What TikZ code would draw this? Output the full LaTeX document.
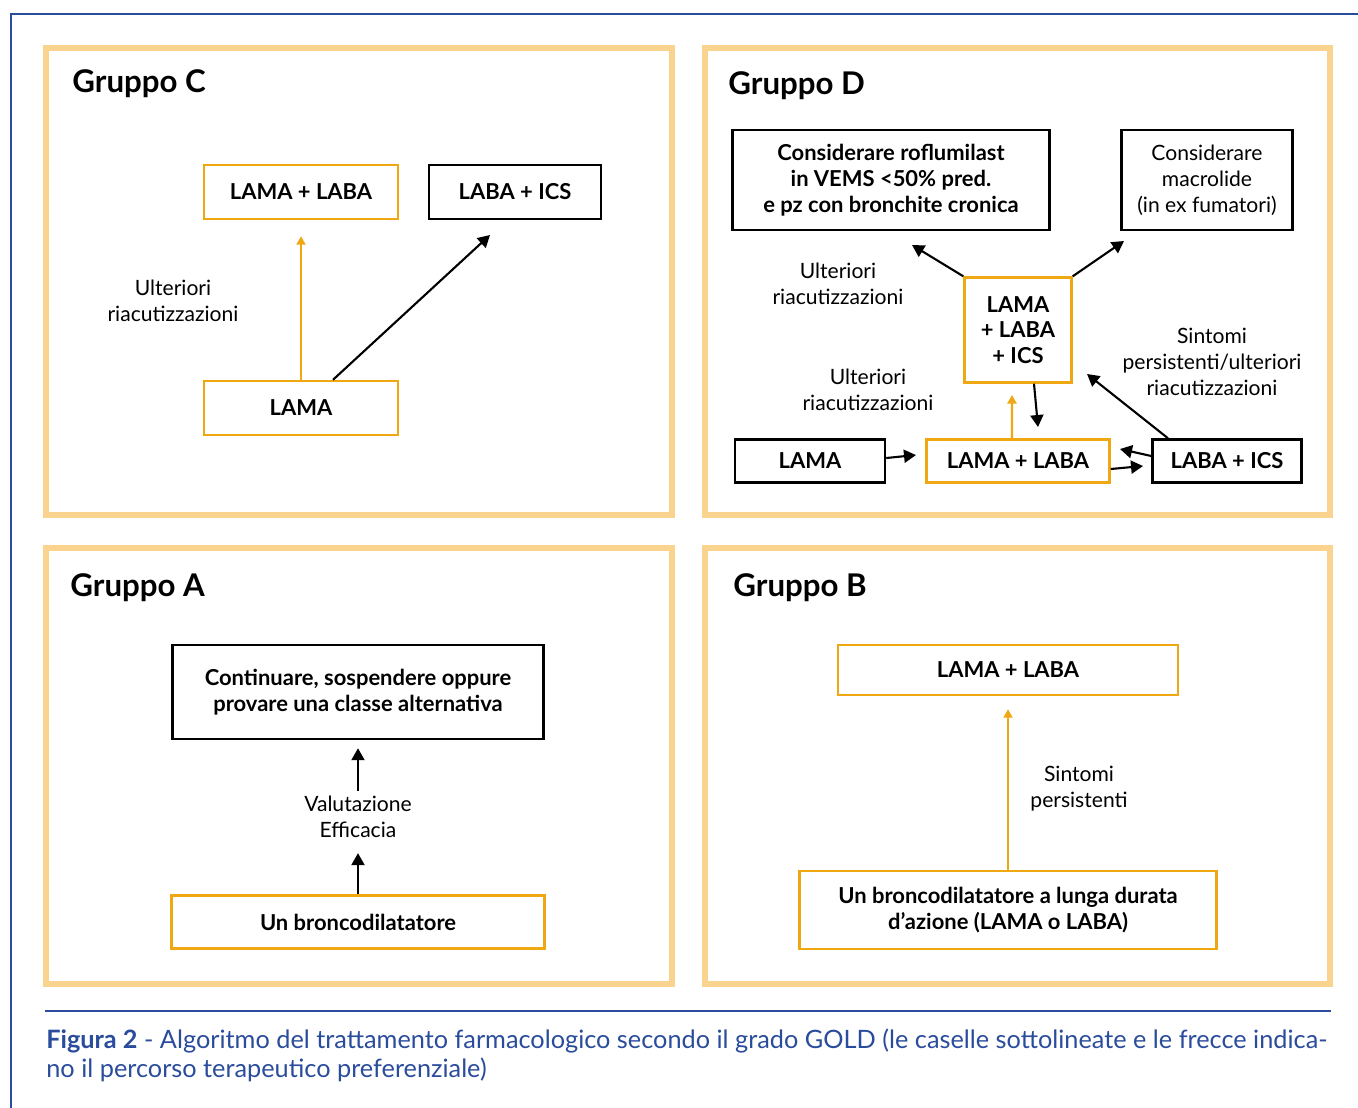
\documentclass[tikz,border=0pt]{standalone}
\usepackage{fontspec}
\setmainfont{Lato}
\usetikzlibrary{arrows.meta,positioning}
\definecolor{org}{HTML}{EFA712}
\definecolor{pal}{HTML}{FAD38F}
\definecolor{blu}{HTML}{2A4C9C}
\newcommand{\bx}{\fontsize{12.5}{14.7}\selectfont\bfseries}
\newcommand{\tx}{\fontsize{12}{14.7}\selectfont}

\begin{document}
\begin{tikzpicture}[x=0.02cm,y=-0.02cm,
  obox/.style={draw=org,line width=1.4pt,inner sep=0pt,align=center,font=\bx},
  kbox/.style={draw=black,line width=1.4pt,inner sep=0pt,align=center,font=\bx},
  lbl/.style={align=center,font=\tx,inner sep=0pt},
  karr/.style={-{Triangle[length=0.24cm,width=0.26cm]},line width=1.2pt},
  oarr/.style={-{Triangle[length=0.17cm,width=0.18cm]},line width=1.2pt,draw=org},
  grp/.style={font=\fontsize{17.8}{20}\selectfont\bfseries,anchor=base west,inner sep=0pt},
  panel/.style={draw=pal,line width=3.4pt}]
 \useasboundingbox (0,0) rectangle (1358,1107);
 \draw[blu,line width=1.4pt] (11,14) rectangle (1400,1150);
 \draw[panel] (46,48) rectangle (672,515);
 \draw[panel] (705,48) rectangle (1330,515);
 \draw[panel] (46,548) rectangle (672,984);
 \draw[panel] (705,548) rectangle (1330,984);
 % Gruppo C
 \node[grp] (tC) at (72,92) {Gruppo C};
 \node[obox,minimum width=3.88cm,minimum height=1.08cm] (cLL) at (301,192) {LAMA + LABA};
 \node[kbox,minimum width=3.44cm,minimum height=1.08cm] (cLI) at (515,192) {LABA + ICS};
 \node[obox,minimum width=3.88cm,minimum height=1.08cm] (cL) at (301,408) {LAMA};
 \node[lbl] (cU) at (173,301) {Ulteriori\\riacutizzazioni};
 \coordinate (cT) at (490,235);
 \draw[oarr,shorten >=0.32cm] (cL) -- (cLL);
 \draw[karr] ([xshift=0.64cm]cL.north) -- (cT);
 % Gruppo D
 \node[grp] (tD) at (728,94) {Gruppo D};
 \node[kbox,minimum width=6.34cm,minimum height=2cm] (dRof) at (891,180) {Considerare roflumilast\\in VEMS <50\% pred.\\e pz con bronchite cronica};
 \node[kbox,font=\tx,minimum width=3.42cm,minimum height=2cm] (dMac) at (1207,180) {Considerare\\macrolide\\(in ex fumatori)};
 \node[obox,minimum width=2.14cm,minimum height=2.1cm] (dTri) at (1018,330) {LAMA\\+ LABA\\+ ICS};
 \node[kbox,minimum width=3cm,minimum height=0.86cm] (dL) at (810,461) {LAMA};
 \node[obox,minimum width=3.66cm,minimum height=0.86cm] (dLL) at (1018,461) {LAMA + LABA};
 \node[kbox,minimum width=2.98cm,minimum height=0.86cm] (dLI) at (1227,461) {LABA + ICS};
 \node[lbl] (dU1) at (838,284) {Ulteriori\\riacutizzazioni};
 \node[lbl] (dU2) at (868,390) {Ulteriori\\riacutizzazioni};
 \node[lbl] (dS) at (1212,362) {Sintomi\\persistenti/ulteriori\\riacutizzazioni};
 \coordinate (dT1) at (912,245); \coordinate (dT2) at (1124,241);
 \coordinate (dT3) at (916,455); \coordinate (dT4) at (1012,395);
 \coordinate (dT5) at (1038,427); \coordinate (dT6) at (1143,466);
 \coordinate (dT7) at (1120,449); \coordinate (dT8) at (1087,374);
 \draw[karr] (dTri.north west) -- (dT1);
 \draw[karr] (dTri.north east) -- (dT2);
 \draw[karr] ([yshift=0.06cm]dL.east) -- (dT3);
 \draw[oarr] ([xshift=-0.12cm]dLL.north) -- (dT4);
 \draw[karr] ([xshift=0.32cm]dTri.south) -- (dT5);
 \draw[karr] ([yshift=-0.16cm]dLL.east) -- (dT6);
 \draw[karr] ([yshift=0.1cm]dLI.west) -- (dT7);
 \draw[karr] ([xshift=-1.18cm]dLI.north) -- (dT8);
 % Gruppo A
 \node[grp] (tA) at (70,596) {Gruppo A};
 \node[kbox,minimum width=7.42cm,minimum height=1.88cm] (aCont) at (358,692) {Continuare, sospendere oppure\\provare una classe alternativa};
 \node[obox,minimum width=7.46cm,minimum height=1.06cm] (aBro) at (358,922) {Un broncodilatatore};
 \node[lbl,inner sep=0.1cm] (aVal) at (358,817) {Valutazione\\Efficacia};
 \draw[karr,shorten >=0.2cm] (aBro) -- (aVal);
 \draw[karr,shorten >=0.16cm] (aVal) -- (aCont);
 % Gruppo B
 \node[grp] (tB) at (733,596) {Gruppo B};
 \node[obox,minimum width=6.8cm,minimum height=1cm] (bLL) at (1008,670) {LAMA + LABA};
 \node[obox,minimum width=8.34cm,minimum height=1.56cm] (bBro) at (1008,910) {Un broncodilatatore a lunga durata\\d'azione (LAMA o LABA)};
 \node[lbl] (bS) at (1079,789) {Sintomi\\persistenti};
 \draw[oarr,shorten >=0.26cm] (bBro) -- (bLL);
 % didascalia
 \draw[blu,line width=1pt] (45,1011) -- (1331,1011);
 \node[anchor=north west,inner sep=0pt,align=left,text=blu,font=\fontsize{14.4}{16.4}\selectfont] (cap) at (46,1029) {\textbf{Figura 2} - Algoritmo del trattamento farmacologico secondo il grado GOLD (le caselle sottolineate e le frecce indica-\\no il percorso terapeutico preferenziale)};
\end{tikzpicture}
\end{document}
